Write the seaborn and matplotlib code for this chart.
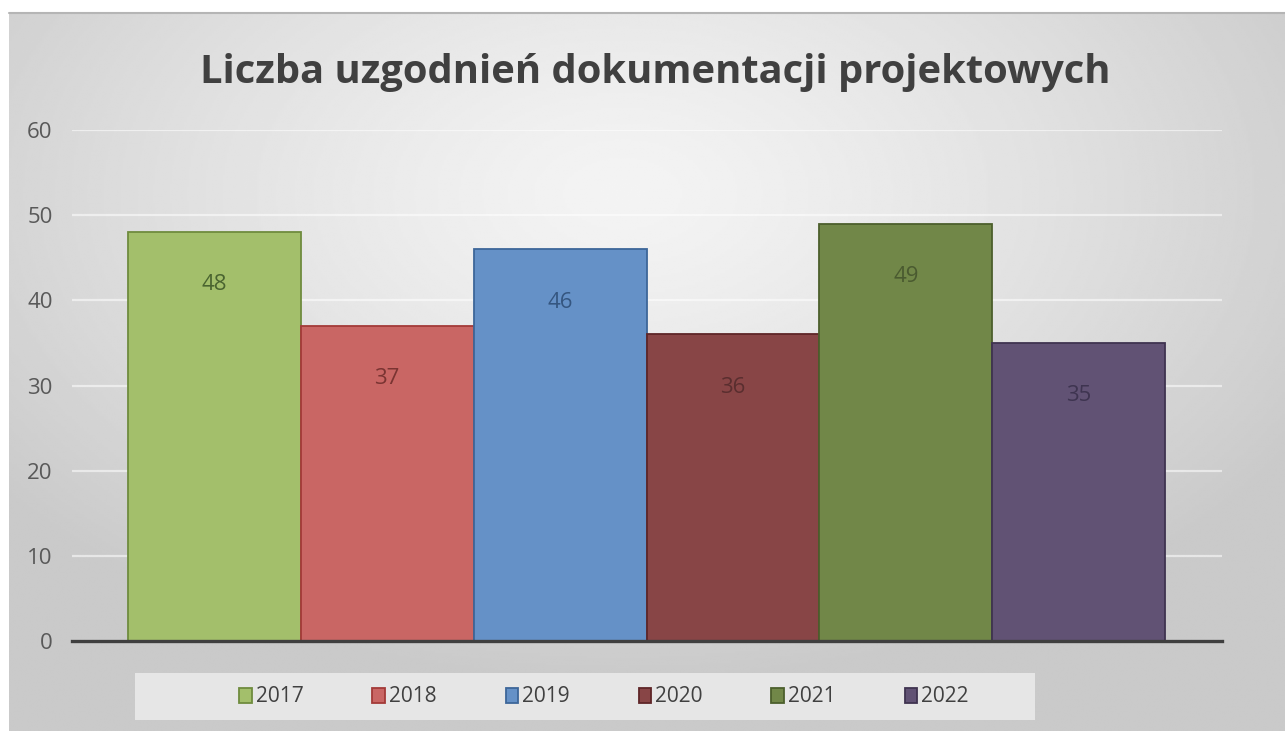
import numpy as np
import pandas as pd
import matplotlib
matplotlib.use("Agg")
import matplotlib.pyplot as plt
from matplotlib.patches import Rectangle
import seaborn as sns

# data
years = ["2017", "2018", "2019", "2020", "2021", "2022"]
counts = [48, 37, 46, 36, 49, 35]
title = "Liczba uzgodnień dokumentacji projektowych"

fill_colors = ["#a3bf6b", "#c96664", "#6591c7", "#884546", "#718748", "#615274"]
edge_colors = ["#6f8c3e", "#a33a38", "#3d6699", "#5e2527", "#4c5f2c", "#3f3350"]
label_colors = ["#4a6430", "#7a3432", "#355680", "#5a2e2f", "#4a5a30", "#3e3450"]


def main():
    sns.set_theme(style="white")
    plt.rcParams["font.family"] = ["Open Sans", "DejaVu Sans"]

    W, H = 1285, 731
    fig = plt.figure(figsize=(W / 100, H / 100), dpi=100)
    fig.patch.set_facecolor("white")

    # background panel with radial gradient
    bg = fig.add_axes([9 / W, 0, (W - 9) / W, (H - 13) / H])
    yy, xx = np.mgrid[0:300, 0:600]
    cx, cy = 0.48 * 600, 0.25 * 300
    r = np.sqrt(((xx - cx) / 600) ** 2 + ((yy - cy) / 330) ** 2)
    r = np.clip(r / 0.62, 0, 1)
    shade = 0.955 - (0.955 - 0.79) * r ** 1.3
    bg.imshow(shade, cmap="gray", vmin=0, vmax=1, aspect="auto",
              interpolation="bilinear")
    bg.set_axis_off()
    fig.add_artist(plt.Line2D([9 / W, 1], [(H - 13) / H, (H - 13) / H],
                              color="#b5b5b5", lw=1.5))

    df = pd.DataFrame({"year": years, "count": counts})
    ax = fig.add_axes([72 / W, 90 / H, 1150 / W, 511 / H])
    ax.patch.set_alpha(0)
    sns.barplot(data=df, x="year", y="count", hue="year", palette=fill_colors,
                width=1.0, dodge=False, legend=False, saturation=1, ax=ax,
                zorder=3)

    for i, bar in enumerate(ax.patches):
        bar.set_edgecolor(edge_colors[i])
        bar.set_linewidth(1.3)

    for i, v in enumerate(counts):
        ax.annotate(str(v), (i, v), xytext=(0, -38), textcoords="offset points",
                    ha="center", va="center", fontsize=16,
                    color=label_colors[i], zorder=5)

    ax.set_ylim(0, 60)
    ax.set_xlim(-0.5 - 56 / 173, 5.5 + 57 / 173)
    ax.set_yticks(range(0, 61, 10))
    ax.yaxis.grid(True, color="white", alpha=0.55, lw=1.6, zorder=0)
    ax.xaxis.grid(False)
    ax.set_xticks([])
    ax.set_xlabel("")
    ax.set_ylabel("")
    for s in ["top", "right", "left"]:
        ax.spines[s].set_visible(False)
    ax.spines["bottom"].set_color("#3f3f3f")
    ax.spines["bottom"].set_linewidth(2.4)
    ax.spines["bottom"].set_zorder(6)
    ax.tick_params(axis="y", length=0, pad=14, labelsize=16,
                   labelcolor="#595959")

    fig.text(655 / W, 1 - 72 / H, title, ha="center", va="center",
             fontsize=28.7, fontweight="bold", color="#404040")

    # legend box
    fig.add_artist(Rectangle((135 / W, 1 - 720 / H), 900 / W, 47 / H,
                             transform=fig.transFigure, facecolor="#e6e6e6",
                             edgecolor="none", zorder=1))
    handles = [Rectangle((0, 0), 1, 1, facecolor=fill_colors[i],
                         edgecolor=edge_colors[i], lw=1.3) for i in range(6)]
    fig.legend(handles, years, loc="center",
               bbox_to_anchor=(604 / W, 1 - 697 / H), ncol=6, frameon=False,
               labelcolor="#404040", handlelength=0.6, handleheight=0.75,
               handletextpad=0.2, columnspacing=3.3,
               prop={"family": ["Open Sans"], "size": 15})

    fig.savefig("out.png", dpi=100)


if __name__ == "__main__":
    main()
